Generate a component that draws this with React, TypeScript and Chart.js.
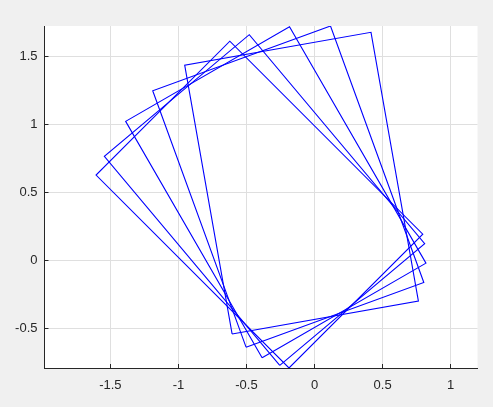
import React, { useEffect, useRef } from "react";
import { Chart, registerables } from "chart.js";

Chart.register(...registerables);

// Rectangle outlines (closed polygons)
const rect10X = [-0.6057, 0.7632, 0.415, -0.9539, -0.6057];
const rect10Y = [-0.5384, -0.297, 1.6776, 1.4362, -0.5384];
const rect20X = [-0.503, 0.8031, 0.1174, -1.1888, -0.503];
const rect20Y = [-0.6354, -0.16, 1.7241, 1.2487, -0.6354];
const rect30X = [-0.3851, 0.8187, -0.1838, -1.3876, -0.3851];
const rect30Y = [-0.7131, -0.0181, 1.7183, 1.0233, -0.7131];
const rect40X = [-0.2554, 0.8094, -0.4794, -1.5442, -0.2554];
const rect40Y = [-0.7691, 0.1244, 1.6603, 0.7668, -0.7691];
const rect45X = [-0.1874, 0.7955, -0.6223, -1.6051, -0.1874];
const rect45Y = [-0.7884, 0.1945, 1.6122, 0.6293, -0.7884];

const xTicks = [-1.5, -1, -0.5, 0, 0.5, 1];
const yTicks = [-0.5, 0, 0.5, 1, 1.5];
const xLimits = [-1.984, 1.1975];
const yLimits = [-0.7884, 1.7241];

const rects = [
  [rect10X, rect10Y],
  [rect20X, rect20Y],
  [rect30X, rect30Y],
  [rect40X, rect40Y],
  [rect45X, rect45Y],
];

const align = (p: number) => Math.round(p - 0.5) + 0.5;

const decorPlugin = {
  id: "decor",
  beforeDraw(chart: any) {
    const { ctx, chartArea } = chart;
    ctx.save();
    ctx.fillStyle = "#f0f0f0";
    ctx.fillRect(0, 0, chart.width, chart.height);
    ctx.fillStyle = "#ffffff";
    ctx.fillRect(
      chartArea.left,
      chartArea.top,
      chartArea.right - chartArea.left,
      chartArea.bottom - chartArea.top
    );
    ctx.restore();
  },
  afterDraw(chart: any) {
    const { ctx, chartArea, scales } = chart;
    ctx.save();
    ctx.strokeStyle = "#262626";
    ctx.lineWidth = 1;
    ctx.beginPath();
    xTicks.forEach((v) => {
      const px = align(scales.x.getPixelForValue(v));
      ctx.moveTo(px, chartArea.bottom);
      ctx.lineTo(px, chartArea.bottom - 4);
    });
    yTicks.forEach((v) => {
      const py = align(scales.y.getPixelForValue(v));
      ctx.moveTo(chartArea.left, py);
      ctx.lineTo(chartArea.left + 4, py);
    });
    ctx.stroke();
    ctx.restore();
  },
};

export default function App() {
  const ref = useRef<HTMLCanvasElement | null>(null);

  useEffect(() => {
    document.body.style.margin = "0";
    const canvas = ref.current;
    if (!canvas) return;
    const font = { family: '"Liberation Sans", Arial, Helvetica, sans-serif', size: 13 };
    const chart = new Chart(canvas, {
      type: "scatter",
      data: {
        datasets: rects.map(([xs, ys]) => ({
          data: xs.map((x, i) => ({ x, y: ys[i] })),
          showLine: true,
          borderColor: "rgb(0,0,255)",
          backgroundColor: "rgb(0,0,255)",
          borderWidth: 1.1,
          pointRadius: 0,
          fill: false,
          tension: 0,
        })),
      },
      options: {
        animation: false,
        responsive: false,
        devicePixelRatio: 1,
        layout: { padding: { left: 0, right: 15.5, top: 26, bottom: 0 } },
        plugins: { legend: { display: false }, tooltip: { enabled: false } },
        scales: {
          x: {
            type: "linear",
            min: xLimits[0],
            max: xLimits[1],
            afterBuildTicks: (s: any) => {
              s.ticks = xTicks.map((v) => ({ value: v }));
            },
            afterFit: (s: any) => {
              s.height = 39;
            },
            grid: { color: "#dfdfdf", lineWidth: 1, drawTicks: false },
            border: { color: "#262626", width: 1 },
            ticks: {
              color: "#262626",
              font,
              padding: 10,
              maxRotation: 0,
              autoSkip: false,
              callback: (v: any) => String(v),
            },
          },
          y: {
            type: "linear",
            min: yLimits[0],
            max: yLimits[1],
            afterBuildTicks: (s: any) => {
              s.ticks = yTicks.map((v) => ({ value: v }));
            },
            afterFit: (s: any) => {
              s.width = 44.5;
            },
            grid: { color: "#dfdfdf", lineWidth: 1, drawTicks: false },
            border: { color: "#262626", width: 1 },
            ticks: {
              color: "#262626",
              font,
              padding: 7,
              autoSkip: false,
              callback: (v: any) => String(v),
            },
          },
        },
      },
      plugins: [decorPlugin],
    } as any);
    return () => chart.destroy();
  }, []);

  return (
    <div
      style={{
        position: "fixed",
        left: 0,
        top: 0,
        width: 493,
        height: 407,
        background: "#f0f0f0",
      }}
    >
      <canvas ref={ref} width={493} height={407} style={{ display: "block" }} />
    </div>
  );
}
